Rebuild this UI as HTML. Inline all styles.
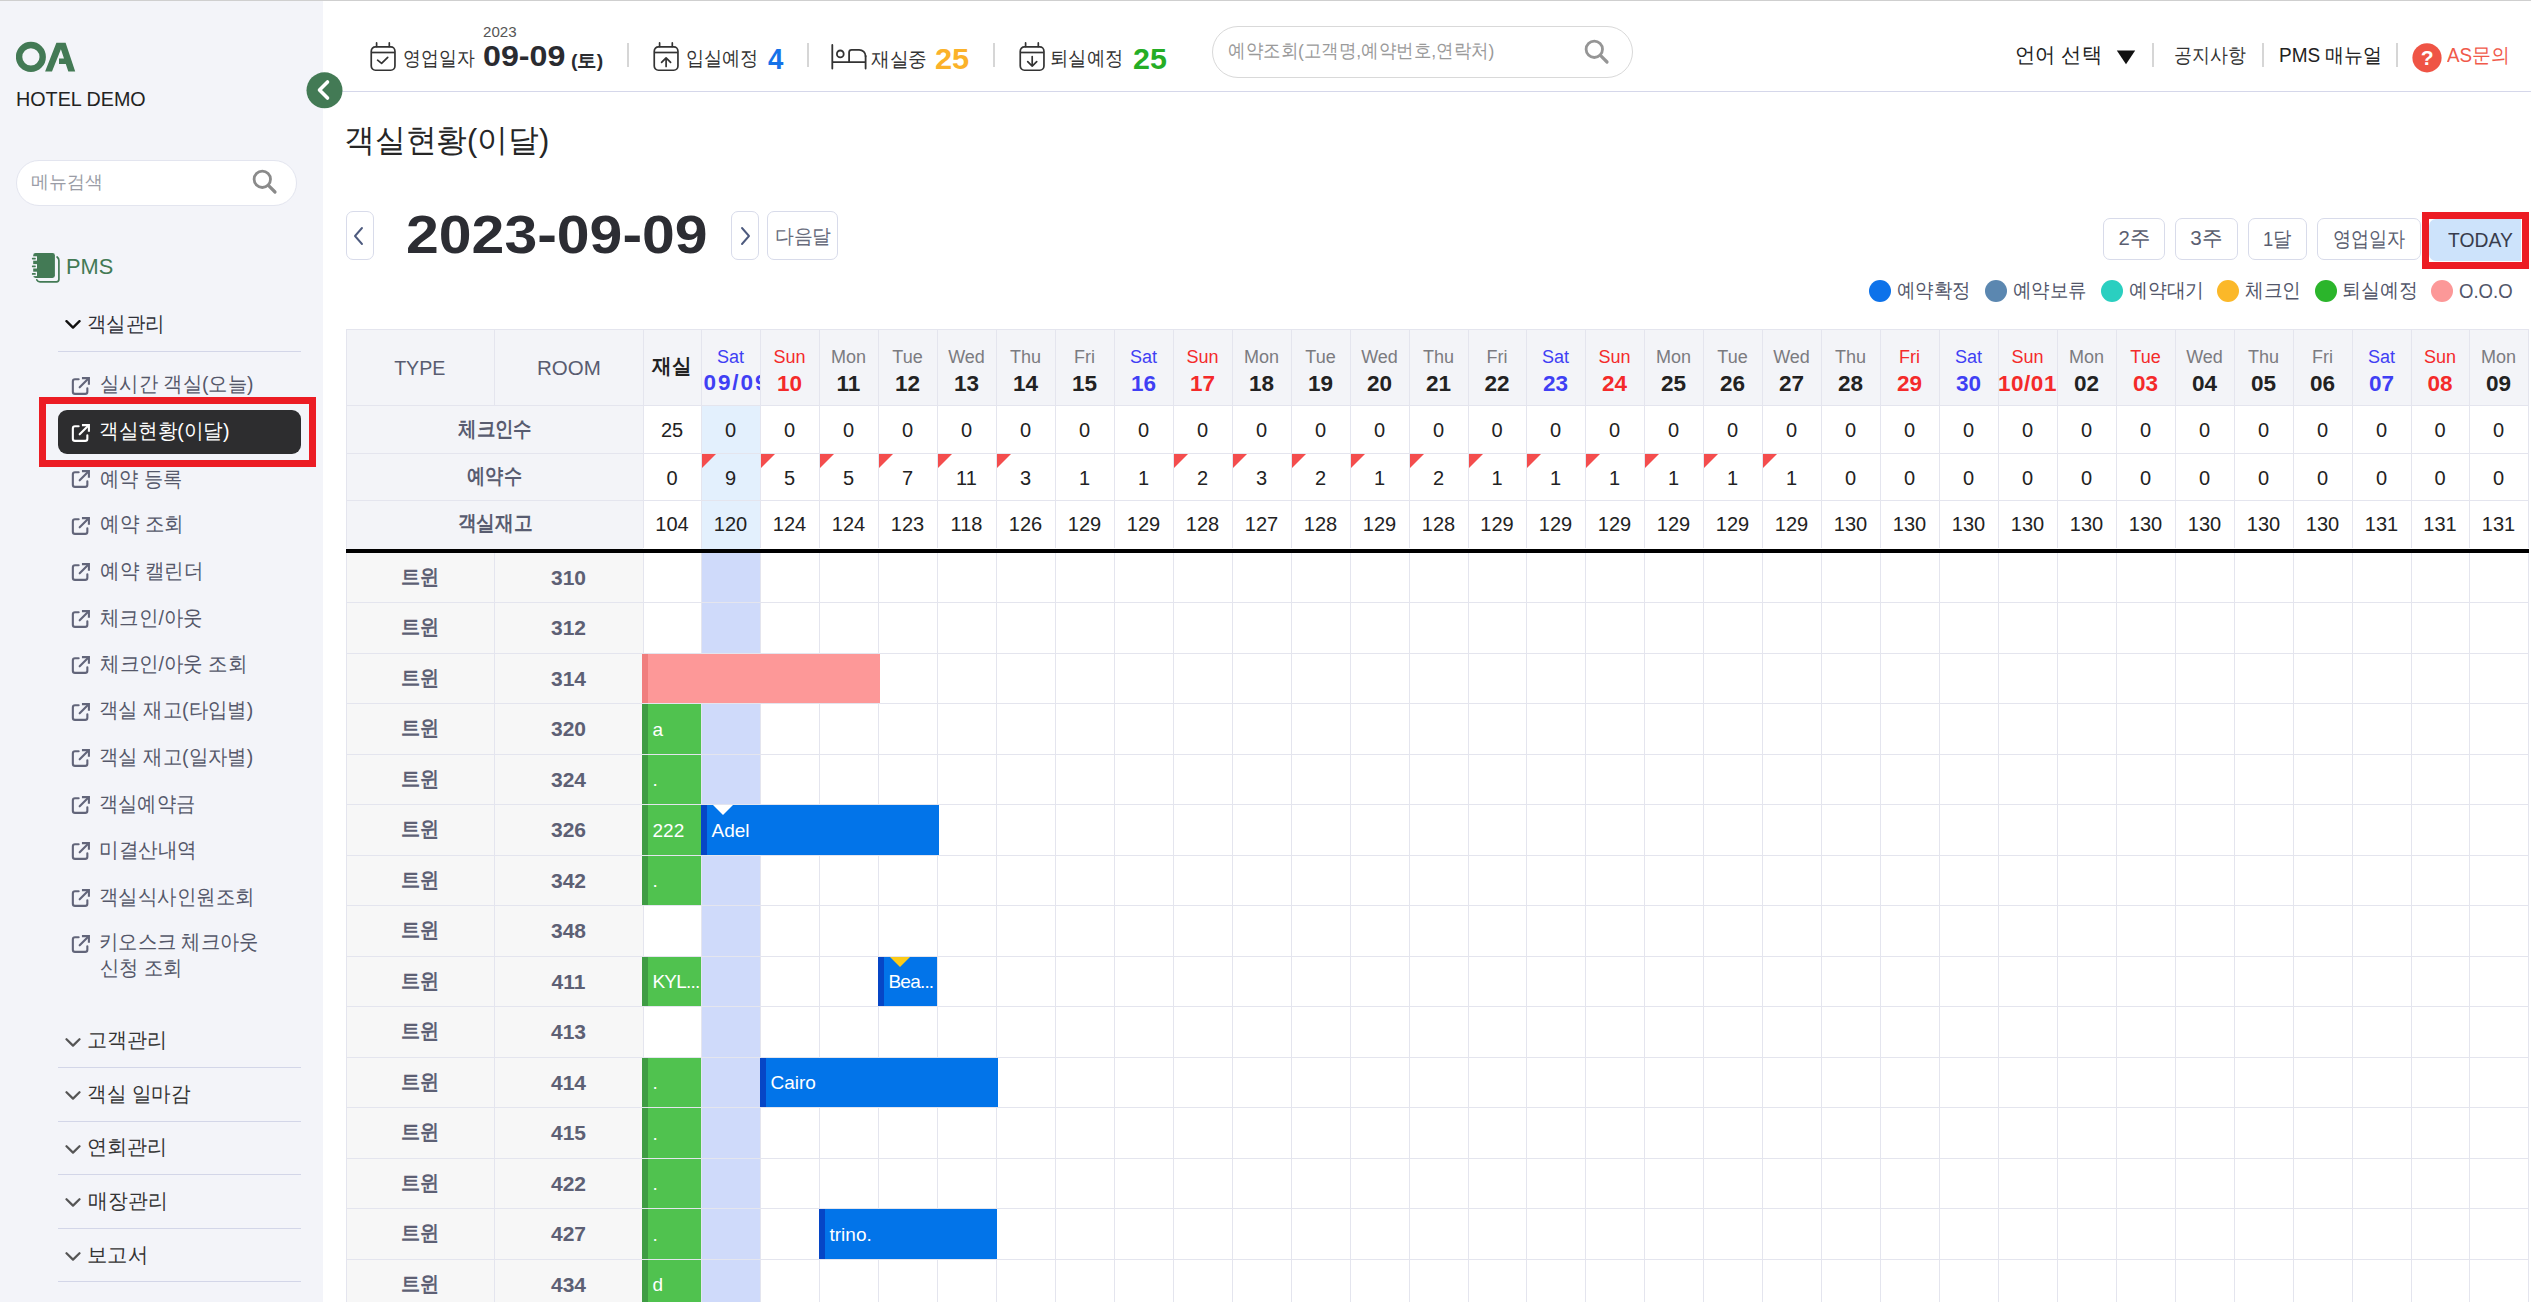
<!DOCTYPE html><html><head><meta charset="utf-8"><title>객실현황(이달)</title><style>
*{box-sizing:border-box;margin:0;padding:0}
html,body{width:2531px;height:1302px;overflow:hidden;background:#fff;font-family:"Liberation Sans", sans-serif;color:#222}
.abs{position:absolute}
.t{position:absolute;white-space:nowrap;line-height:1}
.cell{position:absolute;display:flex;align-items:center;justify-content:center;white-space:nowrap;line-height:1}
.btn{position:absolute;border:1px solid #d8dbea;border-radius:7px;background:#fff}
.dot{position:absolute;width:22px;height:22px;border-radius:50%}
</style></head><body>
<div class="abs" style="left:0;top:0;width:2531px;height:1px;background:#cfcfcf"></div>
<div class="abs" style="left:0;top:1px;width:323px;height:1301px;background:#f3f4f9"></div>
<svg class="abs" style="left:16px;top:41px" width="62" height="33" viewBox="0 0 62 33">
<ellipse cx="14.9" cy="15.9" rx="11.8" ry="11.9" fill="none" stroke="#437a55" stroke-width="6.4"/>
<path d="M29.1 30.5 L40.4 1.7 L49.6 1.7 L59.2 30.5 L52.3 30.5 L49.8 22.9 L43 22.9 L43 17.4 L48 17.4 L44.9 8.3 L36 30.5 Z" fill="#437a55"/>
</svg>
<div class="t" id="f1" style="left:15.60px;top:89.00px;font-size:20px;color:#222;transform:scaleX(0.9862);transform-origin:0 50%;">HOTEL DEMO</div>
<div class="abs" style="left:16px;top:160px;width:281px;height:46px;border:1px solid #e3e5ef;border-radius:23px;background:#fff"></div>
<div class="t" id="f2" style="left:30.80px;top:173.00px;font-size:18px;color:#9a9ca6;transform:scaleX(0.9943);transform-origin:0 50%;">메뉴검색</div>
<svg class="abs" style="left:251px;top:168px" width="28" height="28" viewBox="0 0 28 28"><circle cx="11.3" cy="11.3" r="8.2" fill="none" stroke="#8a8a8a" stroke-width="2.8"/><path d="M17.4 17.4 L24 24" stroke="#8a8a8a" stroke-width="3.2" stroke-linecap="round"/></svg>
<svg class="abs" style="left:30px;top:252px" width="32" height="32" viewBox="0 0 32 32">
<path d="M6.8 27.8 Q7.8 29.8 10 29.8 H26.5 Q28.9 29.8 28.9 27.3 V8.6 Q28.9 6.3 27.1 5" fill="none" stroke="#437a55" stroke-width="1.7" stroke-linecap="round"/>
<rect x="3.2" y="1" width="21.7" height="24.9" rx="2.4" fill="#437a55"/>
<g fill="#f3f4f9"><rect x="2" y="4.3" width="5" height="4.4"/><rect x="2" y="12.1" width="5" height="4.4"/><rect x="2" y="19.7" width="5" height="4.4"/></g>
<g fill="#437a55"><rect x="1.9" y="5.7" width="3.9" height="1.7" rx=".6"/><rect x="1.9" y="13.5" width="3.9" height="1.7" rx=".6"/><rect x="1.9" y="21.1" width="3.9" height="1.7" rx=".6"/></g>
</svg>
<div class="t" id="f3" style="left:65.60px;top:257.00px;font-size:21.5px;color:#437a55;transform:scaleX(1.0140);transform-origin:0 50%;">PMS</div>
<svg class="abs" style="left:65px;top:320px" width="16" height="10" viewBox="0 0 16 10"><path d="M1.5 1.2 L8 7.6 L14.5 1.2" fill="none" stroke="#111" stroke-width="2.4" stroke-linecap="round" stroke-linejoin="round"/></svg>
<div class="t" id="f4" style="left:87.40px;top:312.60px;font-size:21px;color:#2f3038;transform:scaleX(0.9266);transform-origin:0 50%;">객실관리</div>
<div class="abs" style="left:58px;top:351px;width:243px;height:1px;background:#d3d6e8"></div>
<svg class="abs" style="left:70px;top:375px" width="21" height="22" viewBox="0 0 21 22"><path d="M8.65 4.25 H5 Q2.85 4.25 2.85 6.4 V16.7 Q2.85 18.85 5 18.85 H15.2 Q17.35 18.85 17.35 16.7 V13.35" fill="none" stroke="#62657a" stroke-width="2.1" stroke-linecap="round" stroke-linejoin="round"/><path d="M13 3.1 H18.9 V8.7" fill="none" stroke="#62657a" stroke-width="2.1" stroke-linecap="square" stroke-linejoin="miter"/><path d="M18.2 3.8 L9.7 12.3" fill="none" stroke="#62657a" stroke-width="2.1" stroke-linecap="round"/></svg>
<div class="t" id="f5" style="left:100.20px;top:373.20px;font-size:21px;color:#55586a;transform:scaleX(0.9200);transform-origin:0 50%;">실시간 객실(오늘)</div>
<div class="abs" style="left:58px;top:410px;width:243px;height:44px;border-radius:9px;background:#2d2d2f"></div>
<svg class="abs" style="left:70px;top:421.5px" width="21" height="22" viewBox="0 0 21 22"><path d="M8.65 4.25 H5 Q2.85 4.25 2.85 6.4 V16.7 Q2.85 18.85 5 18.85 H15.2 Q17.35 18.85 17.35 16.7 V13.35" fill="none" stroke="#fff" stroke-width="2.1" stroke-linecap="round" stroke-linejoin="round"/><path d="M13 3.1 H18.9 V8.7" fill="none" stroke="#fff" stroke-width="2.1" stroke-linecap="square" stroke-linejoin="miter"/><path d="M18.2 3.8 L9.7 12.3" fill="none" stroke="#fff" stroke-width="2.1" stroke-linecap="round"/></svg>
<div class="t" id="f6" style="left:99.20px;top:419.90px;font-size:21px;color:#fff;transform:scaleX(0.9329);transform-origin:0 50%;font-weight:500;">객실현황(이달)</div>
<svg class="abs" style="left:70px;top:468px" width="21" height="22" viewBox="0 0 21 22"><path d="M8.65 4.25 H5 Q2.85 4.25 2.85 6.4 V16.7 Q2.85 18.85 5 18.85 H15.2 Q17.35 18.85 17.35 16.7 V13.35" fill="none" stroke="#62657a" stroke-width="2.1" stroke-linecap="round" stroke-linejoin="round"/><path d="M13 3.1 H18.9 V8.7" fill="none" stroke="#62657a" stroke-width="2.1" stroke-linecap="square" stroke-linejoin="miter"/><path d="M18.2 3.8 L9.7 12.3" fill="none" stroke="#62657a" stroke-width="2.1" stroke-linecap="round"/></svg>
<div class="t" id="f7" style="left:100.20px;top:467.60px;font-size:21px;color:#55586a;transform:scaleX(0.9160);transform-origin:0 50%;">예약 등록</div>
<svg class="abs" style="left:70px;top:514.5px" width="21" height="22" viewBox="0 0 21 22"><path d="M8.65 4.25 H5 Q2.85 4.25 2.85 6.4 V16.7 Q2.85 18.85 5 18.85 H15.2 Q17.35 18.85 17.35 16.7 V13.35" fill="none" stroke="#62657a" stroke-width="2.1" stroke-linecap="round" stroke-linejoin="round"/><path d="M13 3.1 H18.9 V8.7" fill="none" stroke="#62657a" stroke-width="2.1" stroke-linecap="square" stroke-linejoin="miter"/><path d="M18.2 3.8 L9.7 12.3" fill="none" stroke="#62657a" stroke-width="2.1" stroke-linecap="round"/></svg>
<div class="t" id="f8" style="left:100.20px;top:513.30px;font-size:21px;color:#55586a;transform:scaleX(0.9305);transform-origin:0 50%;">예약 조회</div>
<svg class="abs" style="left:70px;top:561px" width="21" height="22" viewBox="0 0 21 22"><path d="M8.65 4.25 H5 Q2.85 4.25 2.85 6.4 V16.7 Q2.85 18.85 5 18.85 H15.2 Q17.35 18.85 17.35 16.7 V13.35" fill="none" stroke="#62657a" stroke-width="2.1" stroke-linecap="round" stroke-linejoin="round"/><path d="M13 3.1 H18.9 V8.7" fill="none" stroke="#62657a" stroke-width="2.1" stroke-linecap="square" stroke-linejoin="miter"/><path d="M18.2 3.8 L9.7 12.3" fill="none" stroke="#62657a" stroke-width="2.1" stroke-linecap="round"/></svg>
<div class="t" id="f9" style="left:100.20px;top:560.00px;font-size:21px;color:#55586a;transform:scaleX(0.9309);transform-origin:0 50%;">예약 캘린더</div>
<svg class="abs" style="left:70px;top:607.5px" width="21" height="22" viewBox="0 0 21 22"><path d="M8.65 4.25 H5 Q2.85 4.25 2.85 6.4 V16.7 Q2.85 18.85 5 18.85 H15.2 Q17.35 18.85 17.35 16.7 V13.35" fill="none" stroke="#62657a" stroke-width="2.1" stroke-linecap="round" stroke-linejoin="round"/><path d="M13 3.1 H18.9 V8.7" fill="none" stroke="#62657a" stroke-width="2.1" stroke-linecap="square" stroke-linejoin="miter"/><path d="M18.2 3.8 L9.7 12.3" fill="none" stroke="#62657a" stroke-width="2.1" stroke-linecap="round"/></svg>
<div class="t" id="f10" style="left:100.20px;top:606.70px;font-size:21px;color:#55586a;transform:scaleX(0.9267);transform-origin:0 50%;">체크인/아웃</div>
<svg class="abs" style="left:70px;top:654px" width="21" height="22" viewBox="0 0 21 22"><path d="M8.65 4.25 H5 Q2.85 4.25 2.85 6.4 V16.7 Q2.85 18.85 5 18.85 H15.2 Q17.35 18.85 17.35 16.7 V13.35" fill="none" stroke="#62657a" stroke-width="2.1" stroke-linecap="round" stroke-linejoin="round"/><path d="M13 3.1 H18.9 V8.7" fill="none" stroke="#62657a" stroke-width="2.1" stroke-linecap="square" stroke-linejoin="miter"/><path d="M18.2 3.8 L9.7 12.3" fill="none" stroke="#62657a" stroke-width="2.1" stroke-linecap="round"/></svg>
<div class="t" id="f11" style="left:100.20px;top:653.40px;font-size:21px;color:#55586a;transform:scaleX(0.9291);transform-origin:0 50%;">체크인/아웃 조회</div>
<svg class="abs" style="left:70px;top:700.5px" width="21" height="22" viewBox="0 0 21 22"><path d="M8.65 4.25 H5 Q2.85 4.25 2.85 6.4 V16.7 Q2.85 18.85 5 18.85 H15.2 Q17.35 18.85 17.35 16.7 V13.35" fill="none" stroke="#62657a" stroke-width="2.1" stroke-linecap="round" stroke-linejoin="round"/><path d="M13 3.1 H18.9 V8.7" fill="none" stroke="#62657a" stroke-width="2.1" stroke-linecap="square" stroke-linejoin="miter"/><path d="M18.2 3.8 L9.7 12.3" fill="none" stroke="#62657a" stroke-width="2.1" stroke-linecap="round"/></svg>
<div class="t" id="f12" style="left:99.20px;top:699.10px;font-size:21px;color:#55586a;transform:scaleX(0.9244);transform-origin:0 50%;">객실 재고(타입별)</div>
<svg class="abs" style="left:70px;top:747px" width="21" height="22" viewBox="0 0 21 22"><path d="M8.65 4.25 H5 Q2.85 4.25 2.85 6.4 V16.7 Q2.85 18.85 5 18.85 H15.2 Q17.35 18.85 17.35 16.7 V13.35" fill="none" stroke="#62657a" stroke-width="2.1" stroke-linecap="round" stroke-linejoin="round"/><path d="M13 3.1 H18.9 V8.7" fill="none" stroke="#62657a" stroke-width="2.1" stroke-linecap="square" stroke-linejoin="miter"/><path d="M18.2 3.8 L9.7 12.3" fill="none" stroke="#62657a" stroke-width="2.1" stroke-linecap="round"/></svg>
<div class="t" id="f13" style="left:99.20px;top:745.80px;font-size:21px;color:#55586a;transform:scaleX(0.9244);transform-origin:0 50%;">객실 재고(일자별)</div>
<svg class="abs" style="left:70px;top:793.5px" width="21" height="22" viewBox="0 0 21 22"><path d="M8.65 4.25 H5 Q2.85 4.25 2.85 6.4 V16.7 Q2.85 18.85 5 18.85 H15.2 Q17.35 18.85 17.35 16.7 V13.35" fill="none" stroke="#62657a" stroke-width="2.1" stroke-linecap="round" stroke-linejoin="round"/><path d="M13 3.1 H18.9 V8.7" fill="none" stroke="#62657a" stroke-width="2.1" stroke-linecap="square" stroke-linejoin="miter"/><path d="M18.2 3.8 L9.7 12.3" fill="none" stroke="#62657a" stroke-width="2.1" stroke-linecap="round"/></svg>
<div class="t" id="f14" style="left:99.20px;top:792.50px;font-size:21px;color:#55586a;transform:scaleX(0.9149);transform-origin:0 50%;">객실예약금</div>
<svg class="abs" style="left:70px;top:840px" width="21" height="22" viewBox="0 0 21 22"><path d="M8.65 4.25 H5 Q2.85 4.25 2.85 6.4 V16.7 Q2.85 18.85 5 18.85 H15.2 Q17.35 18.85 17.35 16.7 V13.35" fill="none" stroke="#62657a" stroke-width="2.1" stroke-linecap="round" stroke-linejoin="round"/><path d="M13 3.1 H18.9 V8.7" fill="none" stroke="#62657a" stroke-width="2.1" stroke-linecap="square" stroke-linejoin="miter"/><path d="M18.2 3.8 L9.7 12.3" fill="none" stroke="#62657a" stroke-width="2.1" stroke-linecap="round"/></svg>
<div class="t" id="f15" style="left:99.20px;top:839.20px;font-size:21px;color:#55586a;transform:scaleX(0.9340);transform-origin:0 50%;">미결산내역</div>
<svg class="abs" style="left:70px;top:886.5px" width="21" height="22" viewBox="0 0 21 22"><path d="M8.65 4.25 H5 Q2.85 4.25 2.85 6.4 V16.7 Q2.85 18.85 5 18.85 H15.2 Q17.35 18.85 17.35 16.7 V13.35" fill="none" stroke="#62657a" stroke-width="2.1" stroke-linecap="round" stroke-linejoin="round"/><path d="M13 3.1 H18.9 V8.7" fill="none" stroke="#62657a" stroke-width="2.1" stroke-linecap="square" stroke-linejoin="miter"/><path d="M18.2 3.8 L9.7 12.3" fill="none" stroke="#62657a" stroke-width="2.1" stroke-linecap="round"/></svg>
<div class="t" id="f16" style="left:99.20px;top:885.90px;font-size:21px;color:#55586a;transform:scaleX(0.9253);transform-origin:0 50%;">객실식사인원조회</div>
<svg class="abs" style="left:70px;top:933px" width="21" height="22" viewBox="0 0 21 22"><path d="M8.65 4.25 H5 Q2.85 4.25 2.85 6.4 V16.7 Q2.85 18.85 5 18.85 H15.2 Q17.35 18.85 17.35 16.7 V13.35" fill="none" stroke="#62657a" stroke-width="2.1" stroke-linecap="round" stroke-linejoin="round"/><path d="M13 3.1 H18.9 V8.7" fill="none" stroke="#62657a" stroke-width="2.1" stroke-linecap="square" stroke-linejoin="miter"/><path d="M18.2 3.8 L9.7 12.3" fill="none" stroke="#62657a" stroke-width="2.1" stroke-linecap="round"/></svg>
<div class="t" id="f17" style="left:99.20px;top:931.00px;font-size:21px;color:#55586a;transform:scaleX(0.9181);transform-origin:0 50%;">키오스크 체크아웃</div>
<div class="t" id="f18" style="left:100.20px;top:957.00px;font-size:21px;color:#55586a;transform:scaleX(0.9165);transform-origin:0 50%;">신청 조회</div>
<div class="abs" style="left:39px;top:397px;width:277px;height:70px;border:7.5px solid #ec1c24"></div>
<svg class="abs" style="left:65px;top:1038px" width="16" height="10" viewBox="0 0 16 10"><path d="M1.5 1.2 L8 7.6 L14.5 1.2" fill="none" stroke="#555" stroke-width="2.2" stroke-linecap="round" stroke-linejoin="round"/></svg>
<div class="t" id="f19" style="left:87.20px;top:1029.00px;font-size:21px;color:#333;transform:scaleX(0.9570);transform-origin:0 50%;">고객관리</div>
<div class="abs" style="left:58px;top:1067px;width:243px;height:1px;background:#d3d6e8"></div>
<svg class="abs" style="left:65px;top:1091px" width="16" height="10" viewBox="0 0 16 10"><path d="M1.5 1.2 L8 7.6 L14.5 1.2" fill="none" stroke="#555" stroke-width="2.2" stroke-linecap="round" stroke-linejoin="round"/></svg>
<div class="t" id="f20" style="left:87.20px;top:1082.50px;font-size:21px;color:#333;transform:scaleX(0.9322);transform-origin:0 50%;">객실 일마감</div>
<div class="abs" style="left:58px;top:1121px;width:243px;height:1px;background:#d3d6e8"></div>
<svg class="abs" style="left:65px;top:1145px" width="16" height="10" viewBox="0 0 16 10"><path d="M1.5 1.2 L8 7.6 L14.5 1.2" fill="none" stroke="#555" stroke-width="2.2" stroke-linecap="round" stroke-linejoin="round"/></svg>
<div class="t" id="f21" style="left:87.20px;top:1136.00px;font-size:21px;color:#333;transform:scaleX(0.9570);transform-origin:0 50%;">연회관리</div>
<div class="abs" style="left:58px;top:1174px;width:243px;height:1px;background:#d3d6e8"></div>
<svg class="abs" style="left:65px;top:1198px" width="16" height="10" viewBox="0 0 16 10"><path d="M1.5 1.2 L8 7.6 L14.5 1.2" fill="none" stroke="#555" stroke-width="2.2" stroke-linecap="round" stroke-linejoin="round"/></svg>
<div class="t" id="f22" style="left:88.20px;top:1190.00px;font-size:21px;color:#333;transform:scaleX(0.9451);transform-origin:0 50%;">매장관리</div>
<div class="abs" style="left:58px;top:1228px;width:243px;height:1px;background:#d3d6e8"></div>
<svg class="abs" style="left:65px;top:1252px" width="16" height="10" viewBox="0 0 16 10"><path d="M1.5 1.2 L8 7.6 L14.5 1.2" fill="none" stroke="#555" stroke-width="2.2" stroke-linecap="round" stroke-linejoin="round"/></svg>
<div class="t" id="f23" style="left:87.20px;top:1243.50px;font-size:21px;color:#333;transform:scaleX(0.9691);transform-origin:0 50%;">보고서</div>
<div class="abs" style="left:58px;top:1281px;width:243px;height:1px;background:#d3d6e8"></div>
<div class="abs" style="left:323px;top:91px;width:2208px;height:1px;background:#d5d7ea"></div>
<svg class="abs" style="left:306px;top:72px" width="37" height="37" viewBox="0 0 37 37"><circle cx="18.5" cy="18.3" r="18" fill="#437a55"/><path d="M21.5 10 L13.5 18 L21.5 26" fill="none" stroke="#fff" stroke-width="3.6" stroke-linecap="round" stroke-linejoin="round"/></svg>
<svg class="abs" style="left:369.0px;top:41px" width="28" height="32" viewBox="0 0 28 32"><rect x="2.25" y="5.95" width="23.7" height="23.3" rx="4.2" fill="none" stroke="#333" stroke-width="1.7"/><path d="M2.4 11.5 H25.8" stroke="#333" stroke-width="1.7"/><path d="M7.6 1.9 V5.5 M20.3 1.9 V5.5" stroke="#333" stroke-width="1.7" stroke-linecap="round"/><path d="M8.6 19.2 L12.6 22.4 L18.7 16.3" fill="none" stroke="#333" stroke-width="1.7" stroke-linecap="round" stroke-linejoin="round"/></svg>
<div class="t" id="f24" style="left:402.80px;top:48.20px;font-size:20px;color:#333;transform:scaleX(0.8924);transform-origin:0 50%;">영업일자</div>
<div class="t" id="f25" style="left:483.20px;top:24.40px;font-size:15px;color:#555;transform:scaleX(1.0066);transform-origin:0 50%;">2023</div>
<div class="t" id="f26" style="left:483.40px;top:41.00px;font-size:30px;color:#2a2b30;font-weight:bold;transform:scaleX(1.0737);transform-origin:0 50%;">09-09</div>
<div class="t" id="f27" style="left:571.40px;top:51.40px;font-size:19px;color:#2a2b30;font-weight:bold;transform:scaleX(1.0201);transform-origin:0 50%;">(토)</div>
<div class="abs" style="left:627px;top:43px;width:2px;height:24px;background:#d6d6d6"></div>
<div class="abs" style="left:807px;top:43px;width:2px;height:24px;background:#d6d6d6"></div>
<div class="abs" style="left:993px;top:43px;width:2px;height:24px;background:#d6d6d6"></div>
<svg class="abs" style="left:651.7px;top:41px" width="28" height="32" viewBox="0 0 28 32"><rect x="2.25" y="5.95" width="23.7" height="23.3" rx="4.2" fill="none" stroke="#333" stroke-width="1.7"/><path d="M2.4 11.5 H25.8" stroke="#333" stroke-width="1.7"/><path d="M7.6 1.9 V5.5 M20.3 1.9 V5.5" stroke="#333" stroke-width="1.7" stroke-linecap="round"/><path d="M14.1 25.5 V16.9 M9.6 21.3 L14.1 16.8 L18.6 21.3" fill="none" stroke="#333" stroke-width="1.7" stroke-linecap="round" stroke-linejoin="round"/></svg>
<div class="t" id="f28" style="left:685.80px;top:48.20px;font-size:20px;color:#333;transform:scaleX(0.9061);transform-origin:0 50%;">입실예정</div>
<div class="t" id="f29" style="left:767.80px;top:44.60px;font-size:29px;color:#1572e8;font-weight:bold;transform:scaleX(0.9509);transform-origin:0 50%;">4</div>
<svg class="abs" style="left:825px;top:38px" width="44" height="34" viewBox="0 0 44 34"><g fill="none" stroke="#333" stroke-width="1.8" stroke-linecap="round"><path d="M7.3 7 V30.6 M7.3 24.2 H40.6 M40.6 18 V30.6"/><circle cx="15.3" cy="15.9" r="3.4"/><path d="M24.1 24.2 V14.3 Q24.1 11.8 26.6 11.8 H34.1 A6.5 6.5 0 0 1 40.6 18.3"/></g></svg>
<div class="t" id="f30" style="left:871.00px;top:48.60px;font-size:20px;color:#333;transform:scaleX(0.9347);transform-origin:0 50%;">재실중</div>
<div class="t" id="f31" style="left:935.20px;top:44.00px;font-size:30px;color:#fbb22a;font-weight:bold;transform:scaleX(1.0262);transform-origin:0 50%;">25</div>
<svg class="abs" style="left:1017.6px;top:41px" width="28" height="32" viewBox="0 0 28 32"><rect x="2.25" y="5.95" width="23.7" height="23.3" rx="4.2" fill="none" stroke="#333" stroke-width="1.7"/><path d="M2.4 11.5 H25.8" stroke="#333" stroke-width="1.7"/><path d="M7.6 1.9 V5.5 M20.3 1.9 V5.5" stroke="#333" stroke-width="1.7" stroke-linecap="round"/><path d="M14.2 15.5 V25.1 M9.7 20.6 L14.2 25.1 L18.7 20.6" fill="none" stroke="#333" stroke-width="1.7" stroke-linecap="round" stroke-linejoin="round"/></svg>
<div class="t" id="f32" style="left:1050.40px;top:48.20px;font-size:20px;color:#333;transform:scaleX(0.9149);transform-origin:0 50%;">퇴실예정</div>
<div class="t" id="f33" style="left:1133.20px;top:44.00px;font-size:30px;color:#25ad25;font-weight:bold;transform:scaleX(1.0133);transform-origin:0 50%;">25</div>
<div class="abs" style="left:1212px;top:26px;width:421px;height:52px;border:1px solid #d9d9d9;border-radius:26px;background:#fff"></div>
<div class="t" id="f34" style="left:1227.60px;top:41.20px;font-size:19px;color:#9a9a9a;transform:scaleX(0.9213);transform-origin:0 50%;">예약조회(고객명,예약번호,연락처)</div>
<svg class="abs" style="left:1583px;top:38px" width="28" height="28" viewBox="0 0 28 28"><circle cx="11.3" cy="11.3" r="8.2" fill="none" stroke="#959595" stroke-width="2.8"/><path d="M17.4 17.4 L24 24" stroke="#959595" stroke-width="3.2" stroke-linecap="round"/></svg>
<div class="t" id="f35" style="left:2014.80px;top:44.00px;font-size:21px;color:#222;transform:scaleX(0.9671);transform-origin:0 50%;">언어 선택</div>
<svg class="abs" style="left:2116px;top:50px" width="20" height="15" viewBox="0 0 20 15"><path d="M0.8 0.5 H19.2 L10 14.2 Z" fill="#111"/></svg>
<div class="abs" style="left:2152px;top:43px;width:2px;height:24px;background:#d6d6d6"></div>
<div class="abs" style="left:2262px;top:43px;width:2px;height:24px;background:#d6d6d6"></div>
<div class="abs" style="left:2396px;top:43px;width:2px;height:24px;background:#d6d6d6"></div>
<div class="t" id="f36" style="left:2174.00px;top:45.00px;font-size:20px;color:#333;transform:scaleX(0.8975);transform-origin:0 50%;">공지사항</div>
<div class="t" id="f37" style="left:2278.80px;top:45.00px;font-size:20px;color:#222;transform:scaleX(0.9491);transform-origin:0 50%;">PMS 매뉴얼</div>
<svg class="abs" style="left:2412px;top:43px" width="30" height="30" viewBox="0 0 30 30"><circle cx="15" cy="14.8" r="14.6" fill="#ef5445"/><text x="15.2" y="22.2" text-anchor="middle" font-family="Liberation Sans, sans-serif" font-weight="bold" font-size="21" fill="#fff">?</text></svg>
<div class="t" id="f38" style="left:2447.00px;top:45.00px;font-size:20px;color:#f05a4a;transform:scaleX(0.9407);transform-origin:0 50%;">AS문의</div>
<div class="t" id="f39" style="left:344.00px;top:123.50px;font-size:32px;color:#262626;transform:scaleX(0.9617);transform-origin:0 50%;">객실현황(이달)</div>
<div class="btn" style="left:346px;top:211px;width:28px;height:49px"></div>
<svg class="abs" style="left:352px;top:226px" width="14" height="20" viewBox="0 0 14 20"><path d="M10 2 L3 10 L10 18" fill="none" stroke="#4d5a7e" stroke-width="1.9" stroke-linecap="round" stroke-linejoin="round"/></svg>
<div class="t" id="f40" style="left:405.80px;top:207.40px;font-size:54px;color:#2c2d33;font-weight:bold;transform:scaleX(1.0919);transform-origin:0 50%;">2023-09-09</div>
<div class="btn" style="left:731px;top:211px;width:28px;height:49px"></div>
<svg class="abs" style="left:738px;top:226px" width="14" height="20" viewBox="0 0 14 20"><path d="M4 2 L11 10 L4 18" fill="none" stroke="#4d5a7e" stroke-width="1.9" stroke-linecap="round" stroke-linejoin="round"/></svg>
<div class="btn" style="left:767px;top:211px;width:71px;height:49px"></div>
<div class="cell" style="left:767px;top:211px;width:71px;height:49px;"><span id="f41" style="font-size:20px;color:#686c7c;position:relative;top:0.20px;display:inline-block;transform:scaleX(0.9417);">다음달</span></div>
<div class="btn" style="left:2103px;top:218px;width:62px;height:42px"></div>
<div class="cell" style="left:2103px;top:218px;width:62px;height:42px;"><span id="f42" style="font-size:21px;color:#5a5e70;position:relative;top:-1.20px;display:inline-block;transform:scaleX(0.9698);">2주</span></div>
<div class="btn" style="left:2175px;top:218px;width:63px;height:42px"></div>
<div class="cell" style="left:2175px;top:218px;width:63px;height:42px;"><span id="f43" style="font-size:21px;color:#5a5e70;position:relative;top:-1.20px;display:inline-block;transform:scaleX(0.9804);">3주</span></div>
<div class="btn" style="left:2248px;top:218px;width:59px;height:42px"></div>
<div class="cell" style="left:2248px;top:218px;width:59px;height:42px;"><span id="f44" style="font-size:21px;color:#5a5e70;position:relative;top:-0.20px;display:inline-block;transform:scaleX(0.8736);">1달</span></div>
<div class="btn" style="left:2317px;top:218px;width:104px;height:42px"></div>
<div class="cell" style="left:2317px;top:218px;width:104px;height:42px;"><span id="f45" style="font-size:21px;color:#5a5e70;position:relative;top:-0.20px;display:inline-block;transform:scaleX(0.8659);">영업일자</span></div>
<div class="abs" style="left:2429px;top:219px;width:92px;height:42px;background:#cde3fb;border-radius:7px 0 0 7px"></div>
<div class="t" id="f46" style="left:2447.60px;top:228.60px;font-size:21px;color:#383c4c;transform:scaleX(0.9200);transform-origin:0 50%;">TODAY</div>
<div class="abs" style="left:2422px;top:212px;width:107px;height:57px;border:7.5px solid #ec1c24"></div>
<div class="dot" style="left:1869px;top:280px;background:#0d72ea"></div>
<div class="t" id="f47" style="left:1896.50px;top:280.20px;font-size:20px;color:#52566a;transform:scaleX(0.9211);transform-origin:0 50%;">예약확정</div>
<div class="dot" style="left:1985px;top:280px;background:#5b87b0"></div>
<div class="t" id="f48" style="left:2012.50px;top:280.20px;font-size:20px;color:#52566a;transform:scaleX(0.9232);transform-origin:0 50%;">예약보류</div>
<div class="dot" style="left:2101px;top:280px;background:#2acfc0"></div>
<div class="t" id="f49" style="left:2129.00px;top:280.20px;font-size:20px;color:#52566a;transform:scaleX(0.9395);transform-origin:0 50%;">예약대기</div>
<div class="dot" style="left:2217px;top:280px;background:#fbb829"></div>
<div class="t" id="f50" style="left:2244.50px;top:280.20px;font-size:20px;color:#52566a;transform:scaleX(0.9335);transform-origin:0 50%;">체크인</div>
<div class="dot" style="left:2315px;top:280px;background:#2bb52b"></div>
<div class="t" id="f51" style="left:2342.00px;top:280.20px;font-size:20px;color:#52566a;transform:scaleX(0.9467);transform-origin:0 50%;">퇴실예정</div>
<div class="dot" style="left:2431px;top:280px;background:#fc9898"></div>
<div class="t" id="f52" style="left:2459.00px;top:281.20px;font-size:20px;color:#52566a;transform:scaleX(0.9286);transform-origin:0 50%;">O.O.O</div>
<div class="abs" style="left:346px;top:329px;width:2183px;height:76px;background:#f3f4f8;"></div>
<div class="abs" style="left:346px;top:405px;width:297px;height:144px;background:#f3f4f8;"></div>
<div class="abs" style="left:701px;top:406px;width:59px;height:143px;background:#e3f0fd;"></div>
<div class="abs" style="left:346px;top:553px;width:297px;height:749px;background:#f7f7f7;"></div>
<div class="abs" style="left:701px;top:553px;width:59px;height:749px;background:#cfdafa;"></div>
<div class="abs" style="left:346px;top:329px;width:2183px;height:1px;background:#e4e5ee;"></div>
<div class="abs" style="left:346px;top:405px;width:2183px;height:1px;background:#e4e5ee;"></div>
<div class="abs" style="left:346px;top:453px;width:2183px;height:1px;background:#e4e5ee;"></div>
<div class="abs" style="left:346px;top:500px;width:2183px;height:1px;background:#e4e5ee;"></div>
<div class="abs" style="left:346px;top:549px;width:2183px;height:4px;background:#000;"></div>
<div class="abs" style="left:346px;top:602px;width:2183px;height:1px;background:#e4e5ee;"></div>
<div class="abs" style="left:346px;top:653px;width:2183px;height:1px;background:#e4e5ee;"></div>
<div class="abs" style="left:346px;top:703px;width:2183px;height:1px;background:#e4e5ee;"></div>
<div class="abs" style="left:346px;top:754px;width:2183px;height:1px;background:#e4e5ee;"></div>
<div class="abs" style="left:346px;top:804px;width:2183px;height:1px;background:#e4e5ee;"></div>
<div class="abs" style="left:346px;top:855px;width:2183px;height:1px;background:#e4e5ee;"></div>
<div class="abs" style="left:346px;top:905px;width:2183px;height:1px;background:#e4e5ee;"></div>
<div class="abs" style="left:346px;top:956px;width:2183px;height:1px;background:#e4e5ee;"></div>
<div class="abs" style="left:346px;top:1006px;width:2183px;height:1px;background:#e4e5ee;"></div>
<div class="abs" style="left:346px;top:1057px;width:2183px;height:1px;background:#e4e5ee;"></div>
<div class="abs" style="left:346px;top:1107px;width:2183px;height:1px;background:#e4e5ee;"></div>
<div class="abs" style="left:346px;top:1158px;width:2183px;height:1px;background:#e4e5ee;"></div>
<div class="abs" style="left:346px;top:1208px;width:2183px;height:1px;background:#e4e5ee;"></div>
<div class="abs" style="left:346px;top:1259px;width:2183px;height:1px;background:#e4e5ee;"></div>
<div class="abs" style="left:346px;top:329px;width:1px;height:219px;background:#e4e5ee;"></div>
<div class="abs" style="left:346px;top:553px;width:1px;height:749px;background:#e4e5ee;"></div>
<div class="abs" style="left:494px;top:329px;width:1px;height:76px;background:#e4e5ee;"></div>
<div class="abs" style="left:494px;top:553px;width:1px;height:749px;background:#e4e5ee;"></div>
<div class="abs" style="left:643px;top:329px;width:1px;height:219px;background:#e4e5ee;"></div>
<div class="abs" style="left:643px;top:553px;width:1px;height:749px;background:#e4e5ee;"></div>
<div class="abs" style="left:701px;top:329px;width:1px;height:219px;background:#e4e5ee;"></div>
<div class="abs" style="left:701px;top:553px;width:1px;height:749px;background:#e4e5ee;"></div>
<div class="abs" style="left:760px;top:329px;width:1px;height:219px;background:#e4e5ee;"></div>
<div class="abs" style="left:760px;top:553px;width:1px;height:749px;background:#e4e5ee;"></div>
<div class="abs" style="left:819px;top:329px;width:1px;height:219px;background:#e4e5ee;"></div>
<div class="abs" style="left:819px;top:553px;width:1px;height:749px;background:#e4e5ee;"></div>
<div class="abs" style="left:878px;top:329px;width:1px;height:219px;background:#e4e5ee;"></div>
<div class="abs" style="left:878px;top:553px;width:1px;height:749px;background:#e4e5ee;"></div>
<div class="abs" style="left:937px;top:329px;width:1px;height:219px;background:#e4e5ee;"></div>
<div class="abs" style="left:937px;top:553px;width:1px;height:749px;background:#e4e5ee;"></div>
<div class="abs" style="left:996px;top:329px;width:1px;height:219px;background:#e4e5ee;"></div>
<div class="abs" style="left:996px;top:553px;width:1px;height:749px;background:#e4e5ee;"></div>
<div class="abs" style="left:1055px;top:329px;width:1px;height:219px;background:#e4e5ee;"></div>
<div class="abs" style="left:1055px;top:553px;width:1px;height:749px;background:#e4e5ee;"></div>
<div class="abs" style="left:1114px;top:329px;width:1px;height:219px;background:#e4e5ee;"></div>
<div class="abs" style="left:1114px;top:553px;width:1px;height:749px;background:#e4e5ee;"></div>
<div class="abs" style="left:1173px;top:329px;width:1px;height:219px;background:#e4e5ee;"></div>
<div class="abs" style="left:1173px;top:553px;width:1px;height:749px;background:#e4e5ee;"></div>
<div class="abs" style="left:1232px;top:329px;width:1px;height:219px;background:#e4e5ee;"></div>
<div class="abs" style="left:1232px;top:553px;width:1px;height:749px;background:#e4e5ee;"></div>
<div class="abs" style="left:1291px;top:329px;width:1px;height:219px;background:#e4e5ee;"></div>
<div class="abs" style="left:1291px;top:553px;width:1px;height:749px;background:#e4e5ee;"></div>
<div class="abs" style="left:1350px;top:329px;width:1px;height:219px;background:#e4e5ee;"></div>
<div class="abs" style="left:1350px;top:553px;width:1px;height:749px;background:#e4e5ee;"></div>
<div class="abs" style="left:1409px;top:329px;width:1px;height:219px;background:#e4e5ee;"></div>
<div class="abs" style="left:1409px;top:553px;width:1px;height:749px;background:#e4e5ee;"></div>
<div class="abs" style="left:1468px;top:329px;width:1px;height:219px;background:#e4e5ee;"></div>
<div class="abs" style="left:1468px;top:553px;width:1px;height:749px;background:#e4e5ee;"></div>
<div class="abs" style="left:1526px;top:329px;width:1px;height:219px;background:#e4e5ee;"></div>
<div class="abs" style="left:1526px;top:553px;width:1px;height:749px;background:#e4e5ee;"></div>
<div class="abs" style="left:1585px;top:329px;width:1px;height:219px;background:#e4e5ee;"></div>
<div class="abs" style="left:1585px;top:553px;width:1px;height:749px;background:#e4e5ee;"></div>
<div class="abs" style="left:1644px;top:329px;width:1px;height:219px;background:#e4e5ee;"></div>
<div class="abs" style="left:1644px;top:553px;width:1px;height:749px;background:#e4e5ee;"></div>
<div class="abs" style="left:1703px;top:329px;width:1px;height:219px;background:#e4e5ee;"></div>
<div class="abs" style="left:1703px;top:553px;width:1px;height:749px;background:#e4e5ee;"></div>
<div class="abs" style="left:1762px;top:329px;width:1px;height:219px;background:#e4e5ee;"></div>
<div class="abs" style="left:1762px;top:553px;width:1px;height:749px;background:#e4e5ee;"></div>
<div class="abs" style="left:1821px;top:329px;width:1px;height:219px;background:#e4e5ee;"></div>
<div class="abs" style="left:1821px;top:553px;width:1px;height:749px;background:#e4e5ee;"></div>
<div class="abs" style="left:1880px;top:329px;width:1px;height:219px;background:#e4e5ee;"></div>
<div class="abs" style="left:1880px;top:553px;width:1px;height:749px;background:#e4e5ee;"></div>
<div class="abs" style="left:1939px;top:329px;width:1px;height:219px;background:#e4e5ee;"></div>
<div class="abs" style="left:1939px;top:553px;width:1px;height:749px;background:#e4e5ee;"></div>
<div class="abs" style="left:1998px;top:329px;width:1px;height:219px;background:#e4e5ee;"></div>
<div class="abs" style="left:1998px;top:553px;width:1px;height:749px;background:#e4e5ee;"></div>
<div class="abs" style="left:2057px;top:329px;width:1px;height:219px;background:#e4e5ee;"></div>
<div class="abs" style="left:2057px;top:553px;width:1px;height:749px;background:#e4e5ee;"></div>
<div class="abs" style="left:2116px;top:329px;width:1px;height:219px;background:#e4e5ee;"></div>
<div class="abs" style="left:2116px;top:553px;width:1px;height:749px;background:#e4e5ee;"></div>
<div class="abs" style="left:2175px;top:329px;width:1px;height:219px;background:#e4e5ee;"></div>
<div class="abs" style="left:2175px;top:553px;width:1px;height:749px;background:#e4e5ee;"></div>
<div class="abs" style="left:2234px;top:329px;width:1px;height:219px;background:#e4e5ee;"></div>
<div class="abs" style="left:2234px;top:553px;width:1px;height:749px;background:#e4e5ee;"></div>
<div class="abs" style="left:2293px;top:329px;width:1px;height:219px;background:#e4e5ee;"></div>
<div class="abs" style="left:2293px;top:553px;width:1px;height:749px;background:#e4e5ee;"></div>
<div class="abs" style="left:2352px;top:329px;width:1px;height:219px;background:#e4e5ee;"></div>
<div class="abs" style="left:2352px;top:553px;width:1px;height:749px;background:#e4e5ee;"></div>
<div class="abs" style="left:2411px;top:329px;width:1px;height:219px;background:#e4e5ee;"></div>
<div class="abs" style="left:2411px;top:553px;width:1px;height:749px;background:#e4e5ee;"></div>
<div class="abs" style="left:2469px;top:329px;width:1px;height:219px;background:#e4e5ee;"></div>
<div class="abs" style="left:2469px;top:553px;width:1px;height:749px;background:#e4e5ee;"></div>
<div class="abs" style="left:2528px;top:329px;width:1px;height:219px;background:#e4e5ee;"></div>
<div class="abs" style="left:2528px;top:553px;width:1px;height:749px;background:#e4e5ee;"></div>
<div class="cell" style="left:346px;top:329px;width:148px;height:76px;"><span id="f53" style="font-size:20.5px;color:#585c70;position:relative;top:1.00px;display:inline-block;transform:scaleX(0.9579);">TYPE</span></div>
<div class="cell" style="left:494px;top:329px;width:149px;height:76px;"><span id="f54" style="font-size:20.5px;color:#585c70;position:relative;top:1.00px;display:inline-block;transform:scaleX(1.0001);">ROOM</span></div>
<div class="cell" style="left:643px;top:329px;width:58px;height:76px;"><span id="f55" style="font-size:21px;color:#222;font-weight:bold;position:relative;top:-1.40px;display:inline-block;transform:scaleX(0.9302);">재실</span></div>
<div class="cell" style="left:701px;top:346px;width:59px;height:20px;"><span id="f56" style="font-size:18px;color:#3f3ff4;position:relative;top:1.40px;">Sat</span></div>
<div class="abs" style="left:702px;top:370px;width:58px;height:26px;overflow:hidden">
<div class="t" id="f57" style="left:1.50px;top:2.00px;font-size:22.5px;color:#3f3ff4;font-weight:bold;letter-spacing:1.9px">09/09</div>
</div>
<div class="cell" style="left:760px;top:346px;width:59px;height:20px;"><span id="f58" style="font-size:18px;color:#f42a2a;position:relative;top:1.40px;">Sun</span></div>
<div class="cell" style="left:760px;top:372px;width:59px;height:22px;"><span id="f59" style="font-size:22.5px;color:#f42a2a;font-weight:bold;position:relative;top:1.00px;">10</span></div>
<div class="cell" style="left:819px;top:346px;width:59px;height:20px;"><span id="f60" style="font-size:18px;color:#7b7b80;position:relative;top:1.40px;">Mon</span></div>
<div class="cell" style="left:819px;top:372px;width:59px;height:22px;"><span id="f61" style="font-size:22.5px;color:#222;font-weight:bold;position:relative;top:1.00px;">11</span></div>
<div class="cell" style="left:878px;top:346px;width:59px;height:20px;"><span id="f62" style="font-size:18px;color:#7b7b80;position:relative;top:1.40px;">Tue</span></div>
<div class="cell" style="left:878px;top:372px;width:59px;height:22px;"><span id="f63" style="font-size:22.5px;color:#222;font-weight:bold;position:relative;top:1.00px;">12</span></div>
<div class="cell" style="left:937px;top:346px;width:59px;height:20px;"><span id="f64" style="font-size:18px;color:#7b7b80;position:relative;top:1.40px;">Wed</span></div>
<div class="cell" style="left:937px;top:372px;width:59px;height:22px;"><span id="f65" style="font-size:22.5px;color:#222;font-weight:bold;position:relative;top:1.00px;">13</span></div>
<div class="cell" style="left:996px;top:346px;width:59px;height:20px;"><span id="f66" style="font-size:18px;color:#7b7b80;position:relative;top:1.40px;">Thu</span></div>
<div class="cell" style="left:996px;top:372px;width:59px;height:22px;"><span id="f67" style="font-size:22.5px;color:#222;font-weight:bold;position:relative;top:1.00px;">14</span></div>
<div class="cell" style="left:1055px;top:346px;width:59px;height:20px;"><span id="f68" style="font-size:18px;color:#7b7b80;position:relative;top:1.40px;">Fri</span></div>
<div class="cell" style="left:1055px;top:372px;width:59px;height:22px;"><span id="f69" style="font-size:22.5px;color:#222;font-weight:bold;position:relative;top:1.00px;">15</span></div>
<div class="cell" style="left:1114px;top:346px;width:59px;height:20px;"><span id="f70" style="font-size:18px;color:#3f3ff4;position:relative;top:1.40px;">Sat</span></div>
<div class="cell" style="left:1114px;top:372px;width:59px;height:22px;"><span id="f71" style="font-size:22.5px;color:#3f3ff4;font-weight:bold;position:relative;top:1.00px;">16</span></div>
<div class="cell" style="left:1173px;top:346px;width:59px;height:20px;"><span id="f72" style="font-size:18px;color:#f42a2a;position:relative;top:1.40px;">Sun</span></div>
<div class="cell" style="left:1173px;top:372px;width:59px;height:22px;"><span id="f73" style="font-size:22.5px;color:#f42a2a;font-weight:bold;position:relative;top:1.00px;">17</span></div>
<div class="cell" style="left:1232px;top:346px;width:59px;height:20px;"><span id="f74" style="font-size:18px;color:#7b7b80;position:relative;top:1.40px;">Mon</span></div>
<div class="cell" style="left:1232px;top:372px;width:59px;height:22px;"><span id="f75" style="font-size:22.5px;color:#222;font-weight:bold;position:relative;top:1.00px;">18</span></div>
<div class="cell" style="left:1291px;top:346px;width:59px;height:20px;"><span id="f76" style="font-size:18px;color:#7b7b80;position:relative;top:1.40px;">Tue</span></div>
<div class="cell" style="left:1291px;top:372px;width:59px;height:22px;"><span id="f77" style="font-size:22.5px;color:#222;font-weight:bold;position:relative;top:1.00px;">19</span></div>
<div class="cell" style="left:1350px;top:346px;width:59px;height:20px;"><span id="f78" style="font-size:18px;color:#7b7b80;position:relative;top:1.40px;">Wed</span></div>
<div class="cell" style="left:1350px;top:372px;width:59px;height:22px;"><span id="f79" style="font-size:22.5px;color:#222;font-weight:bold;position:relative;top:1.00px;">20</span></div>
<div class="cell" style="left:1409px;top:346px;width:59px;height:20px;"><span id="f80" style="font-size:18px;color:#7b7b80;position:relative;top:1.40px;">Thu</span></div>
<div class="cell" style="left:1409px;top:372px;width:59px;height:22px;"><span id="f81" style="font-size:22.5px;color:#222;font-weight:bold;position:relative;top:1.00px;">21</span></div>
<div class="cell" style="left:1468px;top:346px;width:58px;height:20px;"><span id="f82" style="font-size:18px;color:#7b7b80;position:relative;top:1.40px;">Fri</span></div>
<div class="cell" style="left:1468px;top:372px;width:58px;height:22px;"><span id="f83" style="font-size:22.5px;color:#222;font-weight:bold;position:relative;top:1.00px;">22</span></div>
<div class="cell" style="left:1526px;top:346px;width:59px;height:20px;"><span id="f84" style="font-size:18px;color:#3f3ff4;position:relative;top:1.40px;">Sat</span></div>
<div class="cell" style="left:1526px;top:372px;width:59px;height:22px;"><span id="f85" style="font-size:22.5px;color:#3f3ff4;font-weight:bold;position:relative;top:1.00px;">23</span></div>
<div class="cell" style="left:1585px;top:346px;width:59px;height:20px;"><span id="f86" style="font-size:18px;color:#f42a2a;position:relative;top:1.40px;">Sun</span></div>
<div class="cell" style="left:1585px;top:372px;width:59px;height:22px;"><span id="f87" style="font-size:22.5px;color:#f42a2a;font-weight:bold;position:relative;top:1.00px;">24</span></div>
<div class="cell" style="left:1644px;top:346px;width:59px;height:20px;"><span id="f88" style="font-size:18px;color:#7b7b80;position:relative;top:1.40px;">Mon</span></div>
<div class="cell" style="left:1644px;top:372px;width:59px;height:22px;"><span id="f89" style="font-size:22.5px;color:#222;font-weight:bold;position:relative;top:1.00px;">25</span></div>
<div class="cell" style="left:1703px;top:346px;width:59px;height:20px;"><span id="f90" style="font-size:18px;color:#7b7b80;position:relative;top:1.40px;">Tue</span></div>
<div class="cell" style="left:1703px;top:372px;width:59px;height:22px;"><span id="f91" style="font-size:22.5px;color:#222;font-weight:bold;position:relative;top:1.00px;">26</span></div>
<div class="cell" style="left:1762px;top:346px;width:59px;height:20px;"><span id="f92" style="font-size:18px;color:#7b7b80;position:relative;top:1.40px;">Wed</span></div>
<div class="cell" style="left:1762px;top:372px;width:59px;height:22px;"><span id="f93" style="font-size:22.5px;color:#222;font-weight:bold;position:relative;top:1.00px;">27</span></div>
<div class="cell" style="left:1821px;top:346px;width:59px;height:20px;"><span id="f94" style="font-size:18px;color:#7b7b80;position:relative;top:1.40px;">Thu</span></div>
<div class="cell" style="left:1821px;top:372px;width:59px;height:22px;"><span id="f95" style="font-size:22.5px;color:#222;font-weight:bold;position:relative;top:1.00px;">28</span></div>
<div class="cell" style="left:1880px;top:346px;width:59px;height:20px;"><span id="f96" style="font-size:18px;color:#f42a2a;position:relative;top:1.40px;">Fri</span></div>
<div class="cell" style="left:1880px;top:372px;width:59px;height:22px;"><span id="f97" style="font-size:22.5px;color:#f42a2a;font-weight:bold;position:relative;top:1.00px;">29</span></div>
<div class="cell" style="left:1939px;top:346px;width:59px;height:20px;"><span id="f98" style="font-size:18px;color:#3f3ff4;position:relative;top:1.40px;">Sat</span></div>
<div class="cell" style="left:1939px;top:372px;width:59px;height:22px;"><span id="f99" style="font-size:22.5px;color:#3f3ff4;font-weight:bold;position:relative;top:1.00px;">30</span></div>
<div class="cell" style="left:1998px;top:346px;width:59px;height:20px;"><span id="f100" style="font-size:18px;color:#f42a2a;position:relative;top:1.40px;">Sun</span></div>
<div class="cell" style="left:1998px;top:372px;width:59px;height:22px;"><span id="f101" style="font-size:22.5px;color:#f42a2a;font-weight:bold;position:relative;top:1.00px;letter-spacing:0.5px;">10/01</span></div>
<div class="cell" style="left:2057px;top:346px;width:59px;height:20px;"><span id="f102" style="font-size:18px;color:#7b7b80;position:relative;top:1.40px;">Mon</span></div>
<div class="cell" style="left:2057px;top:372px;width:59px;height:22px;"><span id="f103" style="font-size:22.5px;color:#222;font-weight:bold;position:relative;top:1.00px;">02</span></div>
<div class="cell" style="left:2116px;top:346px;width:59px;height:20px;"><span id="f104" style="font-size:18px;color:#f42a2a;position:relative;top:1.40px;">Tue</span></div>
<div class="cell" style="left:2116px;top:372px;width:59px;height:22px;"><span id="f105" style="font-size:22.5px;color:#f42a2a;font-weight:bold;position:relative;top:1.00px;">03</span></div>
<div class="cell" style="left:2175px;top:346px;width:59px;height:20px;"><span id="f106" style="font-size:18px;color:#7b7b80;position:relative;top:1.40px;">Wed</span></div>
<div class="cell" style="left:2175px;top:372px;width:59px;height:22px;"><span id="f107" style="font-size:22.5px;color:#222;font-weight:bold;position:relative;top:1.00px;">04</span></div>
<div class="cell" style="left:2234px;top:346px;width:59px;height:20px;"><span id="f108" style="font-size:18px;color:#7b7b80;position:relative;top:1.40px;">Thu</span></div>
<div class="cell" style="left:2234px;top:372px;width:59px;height:22px;"><span id="f109" style="font-size:22.5px;color:#222;font-weight:bold;position:relative;top:1.00px;">05</span></div>
<div class="cell" style="left:2293px;top:346px;width:59px;height:20px;"><span id="f110" style="font-size:18px;color:#7b7b80;position:relative;top:1.40px;">Fri</span></div>
<div class="cell" style="left:2293px;top:372px;width:59px;height:22px;"><span id="f111" style="font-size:22.5px;color:#222;font-weight:bold;position:relative;top:1.00px;">06</span></div>
<div class="cell" style="left:2352px;top:346px;width:59px;height:20px;"><span id="f112" style="font-size:18px;color:#3f3ff4;position:relative;top:1.40px;">Sat</span></div>
<div class="cell" style="left:2352px;top:372px;width:59px;height:22px;"><span id="f113" style="font-size:22.5px;color:#3f3ff4;font-weight:bold;position:relative;top:1.00px;">07</span></div>
<div class="cell" style="left:2411px;top:346px;width:58px;height:20px;"><span id="f114" style="font-size:18px;color:#f42a2a;position:relative;top:1.40px;">Sun</span></div>
<div class="cell" style="left:2411px;top:372px;width:58px;height:22px;"><span id="f115" style="font-size:22.5px;color:#f42a2a;font-weight:bold;position:relative;top:1.00px;">08</span></div>
<div class="cell" style="left:2469px;top:346px;width:59px;height:20px;"><span id="f116" style="font-size:18px;color:#7b7b80;position:relative;top:1.40px;">Mon</span></div>
<div class="cell" style="left:2469px;top:372px;width:59px;height:22px;"><span id="f117" style="font-size:22.5px;color:#222;font-weight:bold;position:relative;top:1.00px;">09</span></div>
<div class="cell" style="left:346px;top:405px;width:297px;height:48px;"><span id="f118" style="font-size:20.5px;color:#585c70;font-weight:bold;position:relative;top:0.20px;display:inline-block;transform:scaleX(0.8773);">체크인수</span></div>
<div class="cell" style="left:643px;top:405px;width:58px;height:48px;"><span id="f119" style="font-size:20px;color:#222;position:relative;top:1.20px;">25</span></div>
<div class="cell" style="left:701px;top:405px;width:59px;height:48px;"><span id="f120" style="font-size:20px;color:#222;position:relative;top:1.20px;">0</span></div>
<div class="cell" style="left:760px;top:405px;width:59px;height:48px;"><span id="f121" style="font-size:20px;color:#222;position:relative;top:1.20px;">0</span></div>
<div class="cell" style="left:819px;top:405px;width:59px;height:48px;"><span id="f122" style="font-size:20px;color:#222;position:relative;top:1.20px;">0</span></div>
<div class="cell" style="left:878px;top:405px;width:59px;height:48px;"><span id="f123" style="font-size:20px;color:#222;position:relative;top:1.20px;">0</span></div>
<div class="cell" style="left:937px;top:405px;width:59px;height:48px;"><span id="f124" style="font-size:20px;color:#222;position:relative;top:1.20px;">0</span></div>
<div class="cell" style="left:996px;top:405px;width:59px;height:48px;"><span id="f125" style="font-size:20px;color:#222;position:relative;top:1.20px;">0</span></div>
<div class="cell" style="left:1055px;top:405px;width:59px;height:48px;"><span id="f126" style="font-size:20px;color:#222;position:relative;top:1.20px;">0</span></div>
<div class="cell" style="left:1114px;top:405px;width:59px;height:48px;"><span id="f127" style="font-size:20px;color:#222;position:relative;top:1.20px;">0</span></div>
<div class="cell" style="left:1173px;top:405px;width:59px;height:48px;"><span id="f128" style="font-size:20px;color:#222;position:relative;top:1.20px;">0</span></div>
<div class="cell" style="left:1232px;top:405px;width:59px;height:48px;"><span id="f129" style="font-size:20px;color:#222;position:relative;top:1.20px;">0</span></div>
<div class="cell" style="left:1291px;top:405px;width:59px;height:48px;"><span id="f130" style="font-size:20px;color:#222;position:relative;top:1.20px;">0</span></div>
<div class="cell" style="left:1350px;top:405px;width:59px;height:48px;"><span id="f131" style="font-size:20px;color:#222;position:relative;top:1.20px;">0</span></div>
<div class="cell" style="left:1409px;top:405px;width:59px;height:48px;"><span id="f132" style="font-size:20px;color:#222;position:relative;top:1.20px;">0</span></div>
<div class="cell" style="left:1468px;top:405px;width:58px;height:48px;"><span id="f133" style="font-size:20px;color:#222;position:relative;top:1.20px;">0</span></div>
<div class="cell" style="left:1526px;top:405px;width:59px;height:48px;"><span id="f134" style="font-size:20px;color:#222;position:relative;top:1.20px;">0</span></div>
<div class="cell" style="left:1585px;top:405px;width:59px;height:48px;"><span id="f135" style="font-size:20px;color:#222;position:relative;top:1.20px;">0</span></div>
<div class="cell" style="left:1644px;top:405px;width:59px;height:48px;"><span id="f136" style="font-size:20px;color:#222;position:relative;top:1.20px;">0</span></div>
<div class="cell" style="left:1703px;top:405px;width:59px;height:48px;"><span id="f137" style="font-size:20px;color:#222;position:relative;top:1.20px;">0</span></div>
<div class="cell" style="left:1762px;top:405px;width:59px;height:48px;"><span id="f138" style="font-size:20px;color:#222;position:relative;top:1.20px;">0</span></div>
<div class="cell" style="left:1821px;top:405px;width:59px;height:48px;"><span id="f139" style="font-size:20px;color:#222;position:relative;top:1.20px;">0</span></div>
<div class="cell" style="left:1880px;top:405px;width:59px;height:48px;"><span id="f140" style="font-size:20px;color:#222;position:relative;top:1.20px;">0</span></div>
<div class="cell" style="left:1939px;top:405px;width:59px;height:48px;"><span id="f141" style="font-size:20px;color:#222;position:relative;top:1.20px;">0</span></div>
<div class="cell" style="left:1998px;top:405px;width:59px;height:48px;"><span id="f142" style="font-size:20px;color:#222;position:relative;top:1.20px;">0</span></div>
<div class="cell" style="left:2057px;top:405px;width:59px;height:48px;"><span id="f143" style="font-size:20px;color:#222;position:relative;top:1.20px;">0</span></div>
<div class="cell" style="left:2116px;top:405px;width:59px;height:48px;"><span id="f144" style="font-size:20px;color:#222;position:relative;top:1.20px;">0</span></div>
<div class="cell" style="left:2175px;top:405px;width:59px;height:48px;"><span id="f145" style="font-size:20px;color:#222;position:relative;top:1.20px;">0</span></div>
<div class="cell" style="left:2234px;top:405px;width:59px;height:48px;"><span id="f146" style="font-size:20px;color:#222;position:relative;top:1.20px;">0</span></div>
<div class="cell" style="left:2293px;top:405px;width:59px;height:48px;"><span id="f147" style="font-size:20px;color:#222;position:relative;top:1.20px;">0</span></div>
<div class="cell" style="left:2352px;top:405px;width:59px;height:48px;"><span id="f148" style="font-size:20px;color:#222;position:relative;top:1.20px;">0</span></div>
<div class="cell" style="left:2411px;top:405px;width:58px;height:48px;"><span id="f149" style="font-size:20px;color:#222;position:relative;top:1.20px;">0</span></div>
<div class="cell" style="left:2469px;top:405px;width:59px;height:48px;"><span id="f150" style="font-size:20px;color:#222;position:relative;top:1.20px;">0</span></div>
<div class="cell" style="left:346px;top:453px;width:297px;height:47px;"><span id="f151" style="font-size:20.5px;color:#585c70;font-weight:bold;position:relative;top:0.20px;display:inline-block;transform:scaleX(0.8623);">예약수</span></div>
<div class="cell" style="left:643px;top:453px;width:58px;height:47px;"><span id="f152" style="font-size:20px;color:#222;position:relative;top:1.20px;">0</span></div>
<div class="cell" style="left:701px;top:453px;width:59px;height:47px;"><span id="f153" style="font-size:20px;color:#222;position:relative;top:1.20px;">9</span></div>
<div class="cell" style="left:760px;top:453px;width:59px;height:47px;"><span id="f154" style="font-size:20px;color:#222;position:relative;top:1.20px;">5</span></div>
<div class="cell" style="left:819px;top:453px;width:59px;height:47px;"><span id="f155" style="font-size:20px;color:#222;position:relative;top:1.20px;">5</span></div>
<div class="cell" style="left:878px;top:453px;width:59px;height:47px;"><span id="f156" style="font-size:20px;color:#222;position:relative;top:1.20px;">7</span></div>
<div class="cell" style="left:937px;top:453px;width:59px;height:47px;"><span id="f157" style="font-size:20px;color:#222;position:relative;top:1.20px;">11</span></div>
<div class="cell" style="left:996px;top:453px;width:59px;height:47px;"><span id="f158" style="font-size:20px;color:#222;position:relative;top:1.20px;">3</span></div>
<div class="cell" style="left:1055px;top:453px;width:59px;height:47px;"><span id="f159" style="font-size:20px;color:#222;position:relative;top:1.20px;">1</span></div>
<div class="cell" style="left:1114px;top:453px;width:59px;height:47px;"><span id="f160" style="font-size:20px;color:#222;position:relative;top:1.20px;">1</span></div>
<div class="cell" style="left:1173px;top:453px;width:59px;height:47px;"><span id="f161" style="font-size:20px;color:#222;position:relative;top:1.20px;">2</span></div>
<div class="cell" style="left:1232px;top:453px;width:59px;height:47px;"><span id="f162" style="font-size:20px;color:#222;position:relative;top:1.20px;">3</span></div>
<div class="cell" style="left:1291px;top:453px;width:59px;height:47px;"><span id="f163" style="font-size:20px;color:#222;position:relative;top:1.20px;">2</span></div>
<div class="cell" style="left:1350px;top:453px;width:59px;height:47px;"><span id="f164" style="font-size:20px;color:#222;position:relative;top:1.20px;">1</span></div>
<div class="cell" style="left:1409px;top:453px;width:59px;height:47px;"><span id="f165" style="font-size:20px;color:#222;position:relative;top:1.20px;">2</span></div>
<div class="cell" style="left:1468px;top:453px;width:58px;height:47px;"><span id="f166" style="font-size:20px;color:#222;position:relative;top:1.20px;">1</span></div>
<div class="cell" style="left:1526px;top:453px;width:59px;height:47px;"><span id="f167" style="font-size:20px;color:#222;position:relative;top:1.20px;">1</span></div>
<div class="cell" style="left:1585px;top:453px;width:59px;height:47px;"><span id="f168" style="font-size:20px;color:#222;position:relative;top:1.20px;">1</span></div>
<div class="cell" style="left:1644px;top:453px;width:59px;height:47px;"><span id="f169" style="font-size:20px;color:#222;position:relative;top:1.20px;">1</span></div>
<div class="cell" style="left:1703px;top:453px;width:59px;height:47px;"><span id="f170" style="font-size:20px;color:#222;position:relative;top:1.20px;">1</span></div>
<div class="cell" style="left:1762px;top:453px;width:59px;height:47px;"><span id="f171" style="font-size:20px;color:#222;position:relative;top:1.20px;">1</span></div>
<div class="cell" style="left:1821px;top:453px;width:59px;height:47px;"><span id="f172" style="font-size:20px;color:#222;position:relative;top:1.20px;">0</span></div>
<div class="cell" style="left:1880px;top:453px;width:59px;height:47px;"><span id="f173" style="font-size:20px;color:#222;position:relative;top:1.20px;">0</span></div>
<div class="cell" style="left:1939px;top:453px;width:59px;height:47px;"><span id="f174" style="font-size:20px;color:#222;position:relative;top:1.20px;">0</span></div>
<div class="cell" style="left:1998px;top:453px;width:59px;height:47px;"><span id="f175" style="font-size:20px;color:#222;position:relative;top:1.20px;">0</span></div>
<div class="cell" style="left:2057px;top:453px;width:59px;height:47px;"><span id="f176" style="font-size:20px;color:#222;position:relative;top:1.20px;">0</span></div>
<div class="cell" style="left:2116px;top:453px;width:59px;height:47px;"><span id="f177" style="font-size:20px;color:#222;position:relative;top:1.20px;">0</span></div>
<div class="cell" style="left:2175px;top:453px;width:59px;height:47px;"><span id="f178" style="font-size:20px;color:#222;position:relative;top:1.20px;">0</span></div>
<div class="cell" style="left:2234px;top:453px;width:59px;height:47px;"><span id="f179" style="font-size:20px;color:#222;position:relative;top:1.20px;">0</span></div>
<div class="cell" style="left:2293px;top:453px;width:59px;height:47px;"><span id="f180" style="font-size:20px;color:#222;position:relative;top:1.20px;">0</span></div>
<div class="cell" style="left:2352px;top:453px;width:59px;height:47px;"><span id="f181" style="font-size:20px;color:#222;position:relative;top:1.20px;">0</span></div>
<div class="cell" style="left:2411px;top:453px;width:58px;height:47px;"><span id="f182" style="font-size:20px;color:#222;position:relative;top:1.20px;">0</span></div>
<div class="cell" style="left:2469px;top:453px;width:59px;height:47px;"><span id="f183" style="font-size:20px;color:#222;position:relative;top:1.20px;">0</span></div>
<div class="cell" style="left:346px;top:500px;width:297px;height:48px;"><span id="f184" style="font-size:20.5px;color:#585c70;font-weight:bold;position:relative;top:-0.60px;display:inline-block;transform:scaleX(0.8883);">객실재고</span></div>
<div class="cell" style="left:643px;top:500px;width:58px;height:48px;"><span id="f185" style="font-size:20px;color:#222;position:relative;top:0.40px;">104</span></div>
<div class="cell" style="left:701px;top:500px;width:59px;height:48px;"><span id="f186" style="font-size:20px;color:#222;position:relative;top:0.40px;">120</span></div>
<div class="cell" style="left:760px;top:500px;width:59px;height:48px;"><span id="f187" style="font-size:20px;color:#222;position:relative;top:0.40px;">124</span></div>
<div class="cell" style="left:819px;top:500px;width:59px;height:48px;"><span id="f188" style="font-size:20px;color:#222;position:relative;top:0.40px;">124</span></div>
<div class="cell" style="left:878px;top:500px;width:59px;height:48px;"><span id="f189" style="font-size:20px;color:#222;position:relative;top:0.40px;">123</span></div>
<div class="cell" style="left:937px;top:500px;width:59px;height:48px;"><span id="f190" style="font-size:20px;color:#222;position:relative;top:0.40px;">118</span></div>
<div class="cell" style="left:996px;top:500px;width:59px;height:48px;"><span id="f191" style="font-size:20px;color:#222;position:relative;top:0.40px;">126</span></div>
<div class="cell" style="left:1055px;top:500px;width:59px;height:48px;"><span id="f192" style="font-size:20px;color:#222;position:relative;top:0.40px;">129</span></div>
<div class="cell" style="left:1114px;top:500px;width:59px;height:48px;"><span id="f193" style="font-size:20px;color:#222;position:relative;top:0.40px;">129</span></div>
<div class="cell" style="left:1173px;top:500px;width:59px;height:48px;"><span id="f194" style="font-size:20px;color:#222;position:relative;top:0.40px;">128</span></div>
<div class="cell" style="left:1232px;top:500px;width:59px;height:48px;"><span id="f195" style="font-size:20px;color:#222;position:relative;top:0.40px;">127</span></div>
<div class="cell" style="left:1291px;top:500px;width:59px;height:48px;"><span id="f196" style="font-size:20px;color:#222;position:relative;top:0.40px;">128</span></div>
<div class="cell" style="left:1350px;top:500px;width:59px;height:48px;"><span id="f197" style="font-size:20px;color:#222;position:relative;top:0.40px;">129</span></div>
<div class="cell" style="left:1409px;top:500px;width:59px;height:48px;"><span id="f198" style="font-size:20px;color:#222;position:relative;top:0.40px;">128</span></div>
<div class="cell" style="left:1468px;top:500px;width:58px;height:48px;"><span id="f199" style="font-size:20px;color:#222;position:relative;top:0.40px;">129</span></div>
<div class="cell" style="left:1526px;top:500px;width:59px;height:48px;"><span id="f200" style="font-size:20px;color:#222;position:relative;top:0.40px;">129</span></div>
<div class="cell" style="left:1585px;top:500px;width:59px;height:48px;"><span id="f201" style="font-size:20px;color:#222;position:relative;top:0.40px;">129</span></div>
<div class="cell" style="left:1644px;top:500px;width:59px;height:48px;"><span id="f202" style="font-size:20px;color:#222;position:relative;top:0.40px;">129</span></div>
<div class="cell" style="left:1703px;top:500px;width:59px;height:48px;"><span id="f203" style="font-size:20px;color:#222;position:relative;top:0.40px;">129</span></div>
<div class="cell" style="left:1762px;top:500px;width:59px;height:48px;"><span id="f204" style="font-size:20px;color:#222;position:relative;top:0.40px;">129</span></div>
<div class="cell" style="left:1821px;top:500px;width:59px;height:48px;"><span id="f205" style="font-size:20px;color:#222;position:relative;top:0.40px;">130</span></div>
<div class="cell" style="left:1880px;top:500px;width:59px;height:48px;"><span id="f206" style="font-size:20px;color:#222;position:relative;top:0.40px;">130</span></div>
<div class="cell" style="left:1939px;top:500px;width:59px;height:48px;"><span id="f207" style="font-size:20px;color:#222;position:relative;top:0.40px;">130</span></div>
<div class="cell" style="left:1998px;top:500px;width:59px;height:48px;"><span id="f208" style="font-size:20px;color:#222;position:relative;top:0.40px;">130</span></div>
<div class="cell" style="left:2057px;top:500px;width:59px;height:48px;"><span id="f209" style="font-size:20px;color:#222;position:relative;top:0.40px;">130</span></div>
<div class="cell" style="left:2116px;top:500px;width:59px;height:48px;"><span id="f210" style="font-size:20px;color:#222;position:relative;top:0.40px;">130</span></div>
<div class="cell" style="left:2175px;top:500px;width:59px;height:48px;"><span id="f211" style="font-size:20px;color:#222;position:relative;top:0.40px;">130</span></div>
<div class="cell" style="left:2234px;top:500px;width:59px;height:48px;"><span id="f212" style="font-size:20px;color:#222;position:relative;top:0.40px;">130</span></div>
<div class="cell" style="left:2293px;top:500px;width:59px;height:48px;"><span id="f213" style="font-size:20px;color:#222;position:relative;top:0.40px;">130</span></div>
<div class="cell" style="left:2352px;top:500px;width:59px;height:48px;"><span id="f214" style="font-size:20px;color:#222;position:relative;top:0.40px;">131</span></div>
<div class="cell" style="left:2411px;top:500px;width:58px;height:48px;"><span id="f215" style="font-size:20px;color:#222;position:relative;top:0.40px;">131</span></div>
<div class="cell" style="left:2469px;top:500px;width:59px;height:48px;"><span id="f216" style="font-size:20px;color:#222;position:relative;top:0.40px;">131</span></div>
<div class="abs" style="left:702px;top:454px;width:0;height:0;border-top:14px solid #f44d4d;border-right:14px solid transparent"></div>
<div class="abs" style="left:761px;top:454px;width:0;height:0;border-top:14px solid #f44d4d;border-right:14px solid transparent"></div>
<div class="abs" style="left:820px;top:454px;width:0;height:0;border-top:14px solid #f44d4d;border-right:14px solid transparent"></div>
<div class="abs" style="left:879px;top:454px;width:0;height:0;border-top:14px solid #f44d4d;border-right:14px solid transparent"></div>
<div class="abs" style="left:938px;top:454px;width:0;height:0;border-top:14px solid #f44d4d;border-right:14px solid transparent"></div>
<div class="abs" style="left:997px;top:454px;width:0;height:0;border-top:14px solid #f44d4d;border-right:14px solid transparent"></div>
<div class="abs" style="left:1174px;top:454px;width:0;height:0;border-top:14px solid #f44d4d;border-right:14px solid transparent"></div>
<div class="abs" style="left:1233px;top:454px;width:0;height:0;border-top:14px solid #f44d4d;border-right:14px solid transparent"></div>
<div class="abs" style="left:1292px;top:454px;width:0;height:0;border-top:14px solid #f44d4d;border-right:14px solid transparent"></div>
<div class="abs" style="left:1351px;top:454px;width:0;height:0;border-top:14px solid #f44d4d;border-right:14px solid transparent"></div>
<div class="abs" style="left:1410px;top:454px;width:0;height:0;border-top:14px solid #f44d4d;border-right:14px solid transparent"></div>
<div class="abs" style="left:1469px;top:454px;width:0;height:0;border-top:14px solid #f44d4d;border-right:14px solid transparent"></div>
<div class="abs" style="left:1527px;top:454px;width:0;height:0;border-top:14px solid #f44d4d;border-right:14px solid transparent"></div>
<div class="abs" style="left:1586px;top:454px;width:0;height:0;border-top:14px solid #f44d4d;border-right:14px solid transparent"></div>
<div class="abs" style="left:1645px;top:454px;width:0;height:0;border-top:14px solid #f44d4d;border-right:14px solid transparent"></div>
<div class="abs" style="left:1704px;top:454px;width:0;height:0;border-top:14px solid #f44d4d;border-right:14px solid transparent"></div>
<div class="abs" style="left:1763px;top:454px;width:0;height:0;border-top:14px solid #f44d4d;border-right:14px solid transparent"></div>
<div class="cell" style="left:346px;top:553px;width:148px;height:49px;"><span id="f217" style="font-size:21px;color:#5d6074;font-weight:bold;position:relative;top:-1.20px;display:inline-block;transform:scaleX(0.9080);">트윈</span></div>
<div class="cell" style="left:494px;top:553px;width:149px;height:49px;"><span id="f218" style="font-size:21px;color:#5d6074;font-weight:bold;position:relative;top:-0.40px;">310</span></div>
<div class="cell" style="left:346px;top:603px;width:148px;height:50px;"><span id="f219" style="font-size:21px;color:#5d6074;font-weight:bold;position:relative;top:-1.20px;display:inline-block;transform:scaleX(0.9080);">트윈</span></div>
<div class="cell" style="left:494px;top:603px;width:149px;height:50px;"><span id="f220" style="font-size:21px;color:#5d6074;font-weight:bold;position:relative;top:-0.40px;">312</span></div>
<div class="cell" style="left:346px;top:654px;width:148px;height:49px;"><span id="f221" style="font-size:21px;color:#5d6074;font-weight:bold;position:relative;top:-1.20px;display:inline-block;transform:scaleX(0.9080);">트윈</span></div>
<div class="cell" style="left:494px;top:654px;width:149px;height:49px;"><span id="f222" style="font-size:21px;color:#5d6074;font-weight:bold;position:relative;top:-0.40px;">314</span></div>
<div class="cell" style="left:346px;top:704px;width:148px;height:50px;"><span id="f223" style="font-size:21px;color:#5d6074;font-weight:bold;position:relative;top:-1.20px;display:inline-block;transform:scaleX(0.9080);">트윈</span></div>
<div class="cell" style="left:494px;top:704px;width:149px;height:50px;"><span id="f224" style="font-size:21px;color:#5d6074;font-weight:bold;position:relative;top:-0.40px;">320</span></div>
<div class="cell" style="left:346px;top:755px;width:148px;height:49px;"><span id="f225" style="font-size:21px;color:#5d6074;font-weight:bold;position:relative;top:-1.20px;display:inline-block;transform:scaleX(0.9080);">트윈</span></div>
<div class="cell" style="left:494px;top:755px;width:149px;height:49px;"><span id="f226" style="font-size:21px;color:#5d6074;font-weight:bold;position:relative;top:-0.40px;">324</span></div>
<div class="cell" style="left:346px;top:805px;width:148px;height:50px;"><span id="f227" style="font-size:21px;color:#5d6074;font-weight:bold;position:relative;top:-1.20px;display:inline-block;transform:scaleX(0.9080);">트윈</span></div>
<div class="cell" style="left:494px;top:805px;width:149px;height:50px;"><span id="f228" style="font-size:21px;color:#5d6074;font-weight:bold;position:relative;top:-0.40px;">326</span></div>
<div class="cell" style="left:346px;top:856px;width:148px;height:49px;"><span id="f229" style="font-size:21px;color:#5d6074;font-weight:bold;position:relative;top:-1.20px;display:inline-block;transform:scaleX(0.9080);">트윈</span></div>
<div class="cell" style="left:494px;top:856px;width:149px;height:49px;"><span id="f230" style="font-size:21px;color:#5d6074;font-weight:bold;position:relative;top:-0.40px;">342</span></div>
<div class="cell" style="left:346px;top:906px;width:148px;height:50px;"><span id="f231" style="font-size:21px;color:#5d6074;font-weight:bold;position:relative;top:-1.20px;display:inline-block;transform:scaleX(0.9080);">트윈</span></div>
<div class="cell" style="left:494px;top:906px;width:149px;height:50px;"><span id="f232" style="font-size:21px;color:#5d6074;font-weight:bold;position:relative;top:-0.40px;">348</span></div>
<div class="cell" style="left:346px;top:957px;width:148px;height:49px;"><span id="f233" style="font-size:21px;color:#5d6074;font-weight:bold;position:relative;top:-1.20px;display:inline-block;transform:scaleX(0.9080);">트윈</span></div>
<div class="cell" style="left:494px;top:957px;width:149px;height:49px;"><span id="f234" style="font-size:21px;color:#5d6074;font-weight:bold;position:relative;top:-0.40px;">411</span></div>
<div class="cell" style="left:346px;top:1007px;width:148px;height:50px;"><span id="f235" style="font-size:21px;color:#5d6074;font-weight:bold;position:relative;top:-1.20px;display:inline-block;transform:scaleX(0.9080);">트윈</span></div>
<div class="cell" style="left:494px;top:1007px;width:149px;height:50px;"><span id="f236" style="font-size:21px;color:#5d6074;font-weight:bold;position:relative;top:-0.40px;">413</span></div>
<div class="cell" style="left:346px;top:1058px;width:148px;height:49px;"><span id="f237" style="font-size:21px;color:#5d6074;font-weight:bold;position:relative;top:-1.20px;display:inline-block;transform:scaleX(0.9080);">트윈</span></div>
<div class="cell" style="left:494px;top:1058px;width:149px;height:49px;"><span id="f238" style="font-size:21px;color:#5d6074;font-weight:bold;position:relative;top:-0.40px;">414</span></div>
<div class="cell" style="left:346px;top:1108px;width:148px;height:50px;"><span id="f239" style="font-size:21px;color:#5d6074;font-weight:bold;position:relative;top:-1.20px;display:inline-block;transform:scaleX(0.9080);">트윈</span></div>
<div class="cell" style="left:494px;top:1108px;width:149px;height:50px;"><span id="f240" style="font-size:21px;color:#5d6074;font-weight:bold;position:relative;top:-0.40px;">415</span></div>
<div class="cell" style="left:346px;top:1159px;width:148px;height:49px;"><span id="f241" style="font-size:21px;color:#5d6074;font-weight:bold;position:relative;top:-1.20px;display:inline-block;transform:scaleX(0.9080);">트윈</span></div>
<div class="cell" style="left:494px;top:1159px;width:149px;height:49px;"><span id="f242" style="font-size:21px;color:#5d6074;font-weight:bold;position:relative;top:-0.40px;">422</span></div>
<div class="cell" style="left:346px;top:1209px;width:148px;height:50px;"><span id="f243" style="font-size:21px;color:#5d6074;font-weight:bold;position:relative;top:-1.20px;display:inline-block;transform:scaleX(0.9080);">트윈</span></div>
<div class="cell" style="left:494px;top:1209px;width:149px;height:50px;"><span id="f244" style="font-size:21px;color:#5d6074;font-weight:bold;position:relative;top:-0.40px;">427</span></div>
<div class="cell" style="left:346px;top:1260px;width:148px;height:49px;"><span id="f245" style="font-size:21px;color:#5d6074;font-weight:bold;position:relative;top:-1.20px;display:inline-block;transform:scaleX(0.9080);">트윈</span></div>
<div class="cell" style="left:494px;top:1260px;width:149px;height:49px;"><span id="f246" style="font-size:21px;color:#5d6074;font-weight:bold;position:relative;top:-0.40px;">434</span></div>
<div class="abs" style="left:642px;top:704px;width:59px;height:50px;background:#50c24f;border-left:6px solid #3f9c44;overflow:hidden"><div class="t" style="left:4.5px;top:15.5px;font-size:19px;color:#fff;line-height:20px;">a</div></div>
<div class="abs" style="left:642px;top:755px;width:59px;height:49px;background:#50c24f;border-left:6px solid #3f9c44;overflow:hidden"><div class="t" style="left:4.5px;top:15.0px;font-size:19px;color:#fff;line-height:20px;">.</div></div>
<div class="abs" style="left:642px;top:805px;width:59px;height:50px;background:#50c24f;border-left:6px solid #3f9c44;overflow:hidden"><div class="t" style="left:4.5px;top:15.5px;font-size:19px;color:#fff;line-height:20px;">222</div></div>
<div class="abs" style="left:642px;top:856px;width:59px;height:49px;background:#50c24f;border-left:6px solid #3f9c44;overflow:hidden"><div class="t" style="left:4.5px;top:15.0px;font-size:19px;color:#fff;line-height:20px;">.</div></div>
<div class="abs" style="left:642px;top:957px;width:59px;height:49px;background:#50c24f;border-left:6px solid #3f9c44;overflow:hidden"><div class="t" style="left:4.5px;top:15.0px;font-size:19px;color:#fff;line-height:20px;letter-spacing:-0.8px;">KYL...</div></div>
<div class="abs" style="left:642px;top:1058px;width:59px;height:49px;background:#50c24f;border-left:6px solid #3f9c44;overflow:hidden"><div class="t" style="left:4.5px;top:15.0px;font-size:19px;color:#fff;line-height:20px;">.</div></div>
<div class="abs" style="left:642px;top:1108px;width:59px;height:50px;background:#50c24f;border-left:6px solid #3f9c44;overflow:hidden"><div class="t" style="left:4.5px;top:15.5px;font-size:19px;color:#fff;line-height:20px;">.</div></div>
<div class="abs" style="left:642px;top:1159px;width:59px;height:49px;background:#50c24f;border-left:6px solid #3f9c44;overflow:hidden"><div class="t" style="left:4.5px;top:15.0px;font-size:19px;color:#fff;line-height:20px;">.</div></div>
<div class="abs" style="left:642px;top:1209px;width:59px;height:50px;background:#50c24f;border-left:6px solid #3f9c44;overflow:hidden"><div class="t" style="left:4.5px;top:15.5px;font-size:19px;color:#fff;line-height:20px;">.</div></div>
<div class="abs" style="left:642px;top:1260px;width:59px;height:49px;background:#50c24f;border-left:6px solid #3f9c44;overflow:hidden"><div class="t" style="left:4.5px;top:15.0px;font-size:19px;color:#fff;line-height:20px;">d</div></div>
<div class="abs" style="left:642px;top:654px;width:238px;height:49px;background:#fd9898;border-left:6px solid #f07e7e;overflow:hidden"></div>
<div class="abs" style="left:701px;top:805px;width:238px;height:50px;background:#0274e9;border-left:6px solid #0646c6;overflow:hidden"><div class="t" style="left:4.5px;top:15.5px;font-size:19px;color:#fff;line-height:20px;">Adel</div></div>
<div class="abs" style="left:713px;top:805px;width:0;height:0;border-left:10px solid transparent;border-right:10px solid transparent;border-top:10px solid #fff"></div>
<div class="abs" style="left:878px;top:957px;width:59px;height:49px;background:#0274e9;border-left:6px solid #0646c6;overflow:hidden"><div class="t" style="left:4.5px;top:15.0px;font-size:19px;color:#fff;line-height:20px;letter-spacing:-0.8px;">Bea...</div></div>
<div class="abs" style="left:890px;top:957px;width:0;height:0;border-left:10px solid transparent;border-right:10px solid transparent;border-top:10px solid #fccb17"></div>
<div class="abs" style="left:760px;top:1058px;width:238px;height:49px;background:#0274e9;border-left:6px solid #0646c6;overflow:hidden"><div class="t" style="left:4.5px;top:15.0px;font-size:19px;color:#fff;line-height:20px;">Cairo</div></div>
<div class="abs" style="left:819px;top:1209px;width:178px;height:50px;background:#0274e9;border-left:6px solid #0646c6;overflow:hidden"><div class="t" style="left:4.5px;top:15.5px;font-size:19px;color:#fff;line-height:20px;">trino.</div></div>
</body></html>
